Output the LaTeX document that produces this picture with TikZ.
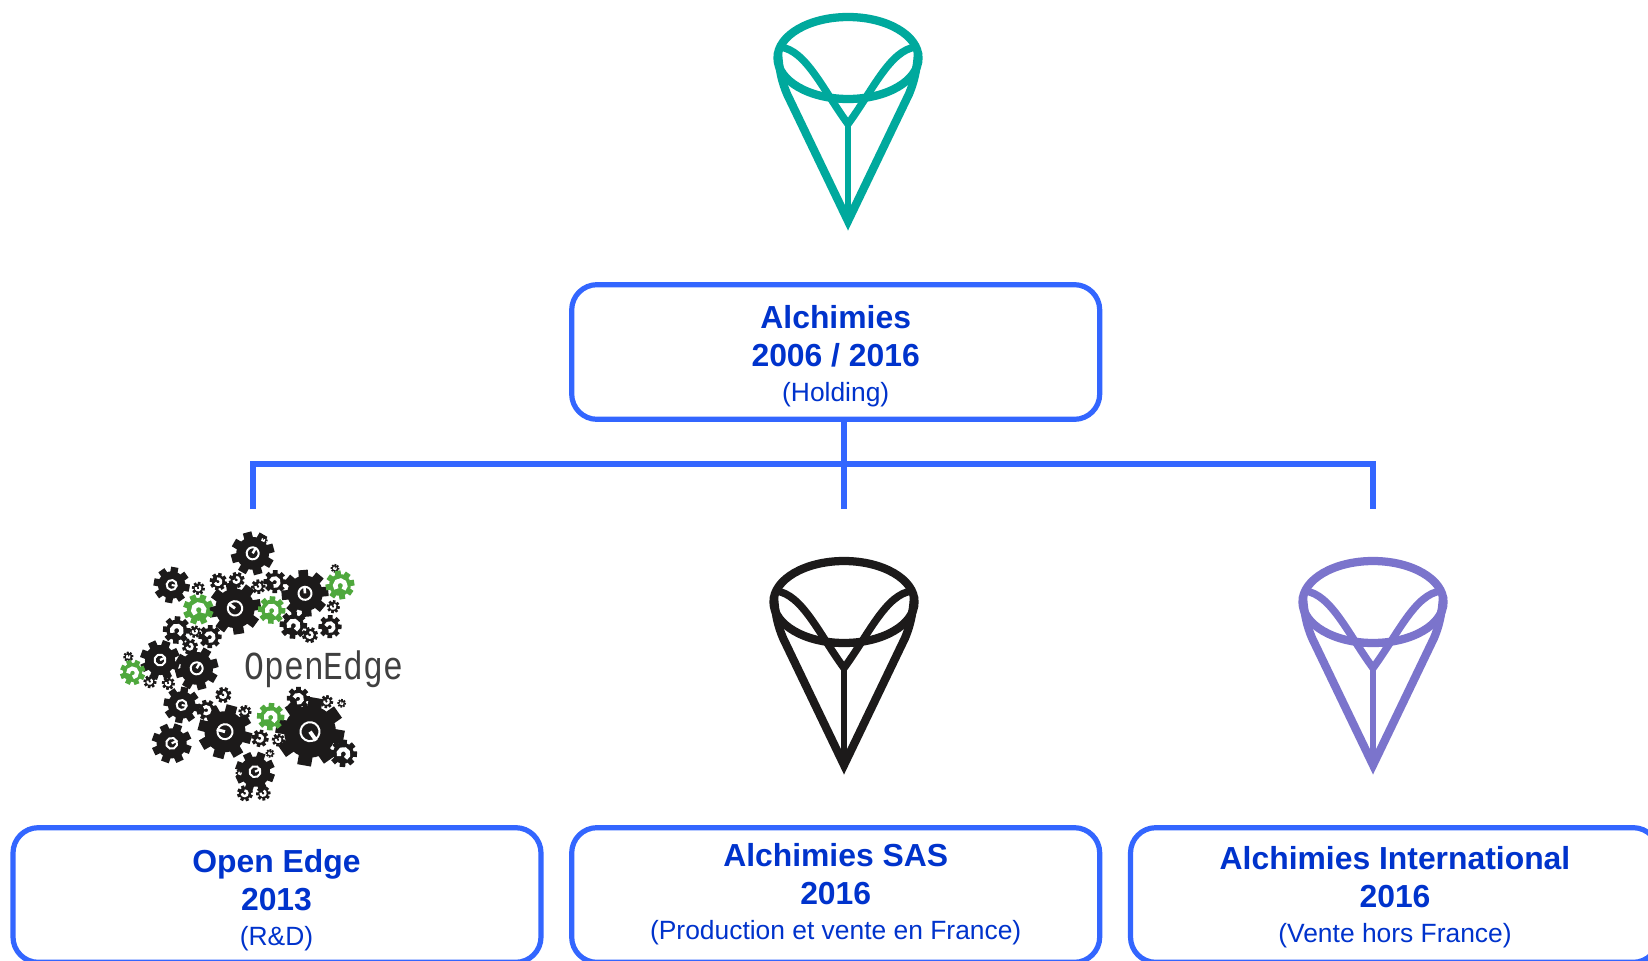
\documentclass[tikz,border=0pt]{standalone}
\usepackage{fontspec}
\setmainfont{Liberation Sans}
\newfontfamily\logomono{Liberation Mono}
\definecolor{linkblue}{HTML}{3366FF}
\definecolor{textblue}{HTML}{0033CC}
\definecolor{logoteal}{HTML}{00A99D}
\definecolor{logoblack}{HTML}{1C1A1A}
\definecolor{logopurple}{HTML}{7B74CC}
\definecolor{geargreen}{HTML}{4FA83D}
\newcommand{\bfl}{\fontsize{23.9pt}{28.9pt}\bfseries\selectfont}
\newcommand{\rgl}{\fontsize{19.8pt}{28.9pt}\mdseries\selectfont}
\newcommand{\gearshape}[4]{%
  \begin{scope}[shift={(#1,#2)},rotate={#3*7}]
    \fill[#4] (0,0) circle ({.82*#3});
    \foreach \a in {0,45,...,315}{\fill[#4,rotate=\a] ({-.22*#3},0) rectangle ({.22*#3},{1.08*#3});}
    \ifdim #3pt>44pt
      \draw[white,line width=1.5pt] (0,0) circle ({.3*#3});
      \fill[white] (0,{-.06*#3}) rectangle ({.34*#3},{.06*#3});
    \else
      \draw[white,line width={.085*#3 pt}] ({.38*#3},{-.2*#3}) arc[start angle=-30,end angle=-300,radius={.38*#3}];
    \fi
  \end{scope}}
\tikzset{
  x=.75pt,y=-.75pt,
  boxstyle/.style={draw=linkblue,line width=3.9pt,rounded corners=19pt,fill=white,inner sep=0pt,minimum width=396pt,minimum height=101pt},
  textstyle/.style={text=textblue,align=center,inner sep=0pt,font=\bfl},
  conn/.style={draw=linkblue,line width=4pt},
  pics/logo/.style={code={
    \begin{scope}[draw=#1,line width=6.2pt,line join=miter,miter limit=10]
      \draw (0,0) ellipse (70.5 and 41);
      \draw (-70,-6) .. controls (-69,12) and (-66,24) .. (-61,36) -- (0,163) -- (61,36) .. controls (66,24) and (69,12) .. (70,-6);
      \draw[line width=5.6pt] (-68,-11) .. controls (-42,-8) and (-25,32) .. (0,66) .. controls (25,32) and (42,-8) .. (68,-11);
      \draw[line width=5pt] (0,66) -- (0,163);
    \end{scope}}}
}
\begin{document}
\begin{tikzpicture}
\path[use as bounding box] (0,0) rectangle (1648,960);
\clip (0,0) rectangle (1648,960);
\fill[white] (0,0) rectangle (1648,960);

% logos
\coordinate (logoTop) at (848,58);
\coordinate (logoMid) at (844,602);
\coordinate (logoRight) at (1373,602);
\pic at (logoTop) {logo=logoteal};
\pic at (logoMid) {logo=logoblack};
\pic at (logoRight) {logo=logopurple};

% OpenEdge gears
\begin{scope}[shift={(100,510)},x=.25pt,y=-.25pt]
  \foreach \gx/\gy/\gr in {458/130/60,215/225/50,405/295/72,615/250/65,180/450/55,290/475/60,245/585/50,375/665/75,215/700/55,630/665/95,465/785/55,
     295/235/18,355/215/24,410/210/22,475/230/20,525/215/32,580/345/38,690/350/32,630/375/22,230/360/38,330/380/32,285/365/17,270/410/22,85/440/14,150/515/18,205/520/18,320/600/28,370/555/22,435/605/18,480/685/24,535/690/18,595/565/32,680/575/18,725/580/12,730/730/38,435/850/22,490/850/20,420/790/12,700/290/18,705/175/12,490/90/12,510/730/12}
    {\gearshape{\gx}{\gy}{\gr}{logoblack}}
  \foreach \gx/\gy/\gr in {295/298/42,515/300/38,720/225/40,98/487/35,512/620/38}
    {\gearshape{\gx}{\gy}{\gr}{geargreen}}
\end{scope}
\node[text=black!75,font=\logomono\fontsize{24.8pt}{28pt}\selectfont,inner sep=0pt] (oetext) at (324,669) {\scalebox{1}[1.2]{OpenEdge}};

% boxes
\node[boxstyle] (holding) at (835.7,352) {};
\node[boxstyle] (boxa) at (277,895) {};
\node[boxstyle] (boxb) at (835.7,895) {};
\node[boxstyle] (boxc) at (1394.5,895) {};

% connectors
\coordinate (busC) at (844,464);
\coordinate (busL) at (253,464);
\coordinate (busR) at (1373,464);
\coordinate (dropL) at (253,509);
\coordinate (dropC) at (844,509);
\coordinate (dropR) at (1373,509);
\draw[conn] (holding.south -| busC) -- (dropC);
\draw[conn] (dropL) -- (busL) -- (busR) -- (dropR);

% texts
\node[textstyle] (tholding) at (835.7,356) {Alchimies\\2006 / 2016\\[-3pt]\rgl (Holding)};
\node[textstyle] (tboxa) at (276.5,900) {Open Edge\\[-.5pt]2013\\[-3pt]\rgl (R\&D)};
\node[textstyle] (tboxb) at (835.7,894) {Alchimies SAS\\2016\\[-3pt]\rgl (Production et vente en France)};
\node[textstyle] (tboxc) at (1395,897) {Alchimies International\\[-.2pt]2016\\[-3pt]\rgl (Vente hors France)};
\end{tikzpicture}
\end{document}
